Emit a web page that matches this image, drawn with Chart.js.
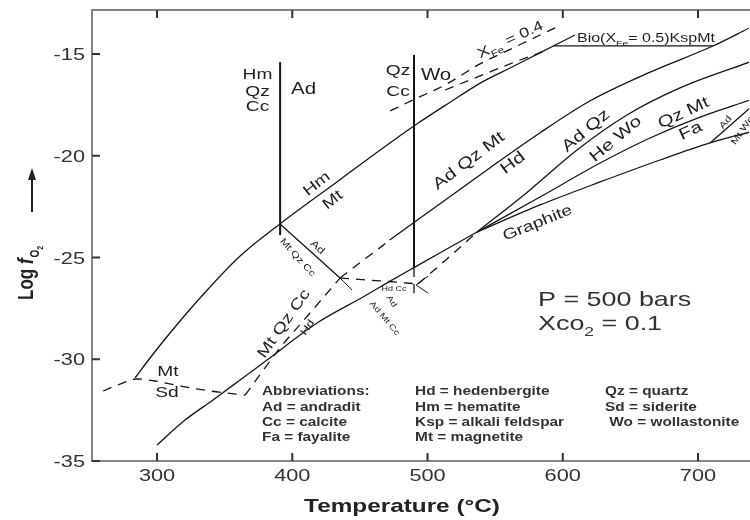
<!DOCTYPE html>
<html>
<head>
<meta charset="utf-8">
<script src="https://cdn.jsdelivr.net/npm/chart.js"></script>
<style>
html, body { margin: 0; padding: 0; background: #fff; }
#wrap { width: 750px; height: 520px; }
</style>
</head>
<body>
<div id="wrap"><canvas id="c" width="750" height="520"></canvas></div>
<script>
// tick labels
const xTicks = [300, 400, 500, 600, 700];
const yTicks = [-15, -20, -25, -30, -35];

// reaction curves, temperature (°C) vs log fO2
const hmMtT = [283.7, 294.8, 309.6, 331.8, 361.4, 390.9, 435, 465, 491, 517, 539, 561, 583, 609];
const hmMtF = [-30.92, -29.94, -28.71, -26.99, -24.93, -23.35, -21.19, -19.72, -18.49, -17.36, -16.43, -15.69, -14.95, -14.07];

const lowT = [300, 320.7, 341.4, 361.4, 381.3, 418.3, 452.3, 470.1, 489.3, 512.9, 536.6];
const lowF = [-34.21, -32.99, -32.0, -31.02, -30.04, -28.22, -26.94, -26.25, -25.52, -24.63, -23.75];

const adHdT = [472, 509, 546, 583, 620, 665, 711, 738];
const adHdF = [-24.14, -22.37, -20.6, -18.88, -17.31, -15.88, -14.61, -13.72];
const adHdDashT = [435.3, 453.8, 472.3];
const adHdDashF = [-26.01, -25.07, -24.14];

const heWoT = [536.6, 575.8, 610.5, 647.5, 686.7, 738.5];
const heWoF = [-23.75, -21.68, -19.72, -18.0, -16.67, -15.39];

const qfmT = [536.6, 583.2, 627.6, 664.5, 701.5, 738.5];
const qfmF = [-23.75, -22.03, -20.36, -19.13, -18.1, -17.26];

const graphT = [536.6, 583.2, 627.6, 671.9, 708.9, 738.5];
const graphF = [-23.75, -22.42, -21.29, -20.21, -19.37, -18.83];

const adWoT = [708.9, 738.5];
const adWoF = [-19.37, -17.65];

const bioT = [593, 711];
const bioF = [-14.6, -14.6];

const v1T = [391, 391];
const v1F = [-15.4, -23.9];
const v2T = [490, 490];
const v2F = [-15.05, -25.52];
const v2DashF = [-25.52, -27.1];

const adMqcT = [390.9, 435.3];
const adMqcF = [-23.35, -26.01];

const mtSdT = [260.1, 272.6, 285.2, 298.5, 317.0, 339.2, 365.1];
const mtSdF = [-31.56, -31.22, -30.97, -31.07, -31.31, -31.56, -31.76];

const mqcHdT = [365.1, 390.9, 413.1, 435.3];
const mqcHdF = [-31.76, -29.45, -27.73, -26.01];

const k1k2T = [435.3, 464.9, 493.0];
const k1k2F = [-26.01, -26.15, -26.3];
const k2cT = [493.0, 514.4, 536.6];
const k2cF = [-26.3, -25.07, -23.75];

// short marks at the two invariant points
const k1TickT = [435.3, 444.2];
const k1TickF = [-26.01, -26.6];
const k2TickT = [500.4, 491.5, 500.4];
const k2TickF = [-25.91, -26.35, -26.75];

const xfeUpT = [472.3, 490.8, 513.0, 538.8, 564.7, 595.8];
const xfeUpF = [-17.8, -17.21, -16.52, -15.49, -14.66, -13.67];
const xfeLoT = [513.0, 538.8, 564.7, 586.9];
const xfeLoF = [-16.77, -16.08, -15.39, -14.85];

function pts(T, F) {
    return T.map((t, i) => ({x: t, y: F[i]}));
}
function line(T, F, dashed, width, straight) {
    return {
        data: pts(T, F),
        showLine: true,
        borderColor: '#151515',
        borderWidth: width || 1.3,
        borderDash: dashed ? [9, 7] : [],
        pointRadius: 0,
        fill: false,
        cubicInterpolationMode: straight ? 'default' : 'monotone',
        tension: 0
    };
}

const SX = 1.28;
const FAM = '"Liberation Sans", Arial, sans-serif';

// parts: [text, kind] kind: '' | 'sub' | 'it'
function rich(ctx, parts, x, y, o) {
    ctx.save();
    ctx.translate(x, y);
    ctx.rotate((o.rot || 0) * Math.PI / 180);
    ctx.scale(o.sx || SX, o.sy || 1);
    ctx.fillStyle = o.color || '#1e1e1e';
    ctx.textBaseline = 'alphabetic';
    const size = o.size;
    const w = o.weight || 'normal';
    const fontFor = k => (k === 'it' ? 'italic ' : '') + w + ' ' + (k === 'sub' ? size * 0.65 : size) + 'px ' + FAM;
    let total = 0;
    parts.forEach(p => { ctx.font = fontFor(p[1]); total += ctx.measureText(p[0]).width; });
    let cx = o.align === 'left' ? 0 : (o.align === 'right' ? -total : -total / 2);
    const base = size * 0.36;
    parts.forEach(p => {
        ctx.font = fontFor(p[1]);
        ctx.fillText(p[0], cx, base + (p[1] === 'sub' ? size * 0.3 : 0));
        cx += ctx.measureText(p[0]).width;
    });
    ctx.restore();
}

// text placed on the diagram (T, log fO2)
const notes = [
    {s: [['Hm']], T: 374.3, f: -15.98, size: 15},
    {s: [['Qz']], T: 374.3, f: -16.79, size: 15},
    {s: [['Cc']], T: 374.3, f: -17.56, size: 15},
    {s: [['Ad']], T: 408.3, f: -16.7, size: 16},
    {s: [['Qz']], T: 478.2, f: -15.79, size: 15},
    {s: [['Cc']], T: 478.2, f: -16.82, size: 15},
    {s: [['Wo']], T: 506.3, f: -16.01, size: 16},
    {s: [['Hm']], T: 417.6, f: -21.34, size: 15, rot: -38},
    {s: [['Mt']], T: 429.4, f: -22.13, size: 15, rot: -38},
    {s: [['Ad Qz Mt']], T: 530.0, f: -20.21, size: 16, rot: -37},
    {s: [['Hd']], T: 562.5, f: -20.31, size: 16, rot: -37},
    {s: [['Ad Qz']], T: 616.5, f: -18.73, size: 16, rot: -40},
    {s: [['He Wo']], T: 638.6, f: -19.13, size: 16, rot: -40},
    {s: [['Qz Mt']], T: 688.9, f: -17.85, size: 16, rot: -25},
    {s: [['Fa']], T: 694.1, f: -18.73, size: 16, rot: -25},
    {s: [['Ad']], T: 720.0, f: -18.34, size: 9, rot: -50},
    {s: [['Mt Wo']], T: 732.5, f: -18.73, size: 9, rot: -55},
    {s: [['Graphite']], T: 581.0, f: -23.26, size: 15, rot: -22},
    {s: [['X'], ['Fe', 'sub'], [' = 0.4']], T: 561.0, f: -14.26, size: 14, rot: -25},
    {s: [['Bio(X'], ['Fe', 'sub'], ['= 0.5)KspMt']], T: 610.5, f: -14.21, size: 12.5, align: 'left'},
    {s: [['P = 500 bars']], T: 581.7, f: -26.99, size: 21, align: 'left', color: '#333'},
    {s: [['Xco'], ['2', 'sub'], [' = 0.1']], T: 581.7, f: -28.17, size: 21, align: 'left', color: '#333'},
    {s: [['Mt']], T: 308.1, f: -30.58, size: 15},
    {s: [['Sd']], T: 307.4, f: -31.61, size: 15},
    {s: [['Mt Qz Cc']], T: 393.2, f: -28.22, size: 15, rot: -55},
    {s: [['Hd']], T: 410.9, f: -28.42, size: 10, rot: -55},
    {s: [['Ad']], T: 419.0, f: -24.48, size: 10, rot: 42},
    {s: [['Mt Qz Cc']], T: 404.3, f: -24.98, size: 9, rot: 48},
    {s: [['Hd Cc']], T: 475.2, f: -26.5, size: 7},
    {s: [['Ad']], T: 473.8, f: -27.14, size: 8, rot: 55},
    {s: [['Ad Mt Cc']], T: 468.6, f: -27.97, size: 8, rot: 50}
];

const abbrCols = [
    {T: 377.6, rows: ['Abbreviations:', 'Ad = andradit', 'Cc = calcite', 'Fa = fayalite']},
    {T: 490.8, rows: ['Hd = hedenbergite', 'Hm = hematite', 'Ksp = alkali feldspar', 'Mt = magnetite']},
    {T: 631.3, rows: ['Qz = quartz', 'Sd = siderite', ' Wo = wollastonite']}
];
const abbrRowsF = [-31.56, -32.32, -33.06, -33.82];

const decor = {
    id: 'decor',
    afterDatasetsDraw(chart) {
        const ctx = chart.ctx;
        const xs = chart.scales.x, ys = chart.scales.y;
        const a = chart.chartArea;
        ctx.save();
        // frame (left, top, bottom)
        ctx.strokeStyle = '#858585';
        ctx.lineWidth = 2;
        ctx.beginPath();
        ctx.moveTo(a.right + 2, a.top);
        ctx.lineTo(a.left, a.top);
        ctx.lineTo(a.left, a.bottom);
        ctx.lineTo(a.right + 2, a.bottom);
        ctx.stroke();
        // inward ticks
        ctx.strokeStyle = '#333';
        ctx.beginPath();
        xTicks.forEach(v => {
            const px = xs.getPixelForValue(v);
            ctx.moveTo(px, a.bottom); ctx.lineTo(px, a.bottom - 8);
            ctx.moveTo(px, a.top); ctx.lineTo(px, a.top + 8);
        });
        yTicks.forEach(v => {
            const py = ys.getPixelForValue(v);
            ctx.moveTo(a.left, py); ctx.lineTo(a.left + 8, py);
        });
        ctx.stroke();
        ctx.restore();

        xTicks.forEach(v => rich(ctx, [[String(v)]], xs.getPixelForValue(v), a.bottom + 14, {size: 17, color: '#333'}));
        yTicks.forEach(v => rich(ctx, [[String(v)]], a.left - 7, ys.getPixelForValue(v), {size: 17, color: '#333', align: 'right'}));

        notes.forEach(n => rich(ctx, n.s, xs.getPixelForValue(n.T), ys.getPixelForValue(n.f), n));
        abbrCols.forEach(c => c.rows.forEach((r, i) => rich(ctx, [[r]], xs.getPixelForValue(c.T), ys.getPixelForValue(abbrRowsF[i]),
            {size: 12, weight: 'bold', align: 'left', color: '#333'})));

        // axis titles
        rich(ctx, [['Temperature (°C)']], 402, 505, {size: 19, weight: 'bold', color: '#222'});
        ctx.save();
        ctx.translate(33, 300);
        ctx.rotate(-Math.PI / 2);
        ctx.scale(1, 1.28);
        ctx.fillStyle = '#222';
        ctx.font = 'bold 17px ' + FAM;
        ctx.fillText('Log ', 0, 0);
        let cx = ctx.measureText('Log ').width;
        ctx.font = 'italic bold 17px ' + FAM;
        ctx.fillText('f', cx, 0);
        cx += ctx.measureText('f').width + 1;
        ctx.font = 'bold 10px ' + FAM;
        ctx.fillText('O', cx, 5);
        cx += ctx.measureText('O').width;
        ctx.font = 'bold 7px ' + FAM;
        ctx.fillText('2', cx, 8);
        ctx.restore();
        // arrow
        ctx.save();
        ctx.strokeStyle = '#222';
        ctx.fillStyle = '#222';
        ctx.lineWidth = 2;
        ctx.beginPath();
        ctx.moveTo(32, 212); ctx.lineTo(32, 176);
        ctx.stroke();
        ctx.beginPath();
        ctx.moveTo(32, 168); ctx.lineTo(28, 180); ctx.lineTo(36, 180); ctx.closePath();
        ctx.fill();
        ctx.restore();
    }
};

new Chart(document.getElementById('c'), {
    type: 'scatter',
    data: {
        datasets: [
            line(hmMtT, hmMtF),
            line(lowT, lowF),
            line(adHdT, adHdF),
            line(adHdDashT, adHdDashF, true),
            line(heWoT, heWoF),
            line(qfmT, qfmF),
            line(graphT, graphF),
            line(adWoT, adWoF),
            line(bioT, bioF),
            line(v1T, v1F, false, 2),
            line(v2T, v2F, false, 2),
            line(v2T, v2DashF, true),
            line(adMqcT, adMqcF),
            line(mtSdT, mtSdF, true),
            line(mqcHdT, mqcHdF, true),
            line(k1k2T, k1k2F, true),
            line(k2cT, k2cF, true),
            line(k1TickT, k1TickF, false, 1, true),
            line(k2TickT, k2TickF, false, 1, true),
            line(xfeUpT, xfeUpF, true),
            line(xfeLoT, xfeLoF, true)
        ]
    },
    options: {
        responsive: false,
        animation: false,
        layout: {padding: {left: 92, right: 1, top: 10, bottom: 59}},
        plugins: {legend: {display: false}, tooltip: {enabled: false}},
        scales: {
            x: {type: 'linear', min: 251.9, max: 737.7, display: false},
            y: {type: 'linear', min: -35, max: -12.84, display: false}
        }
    },
    plugins: [decor]
});
</script>
</body>
</html>
